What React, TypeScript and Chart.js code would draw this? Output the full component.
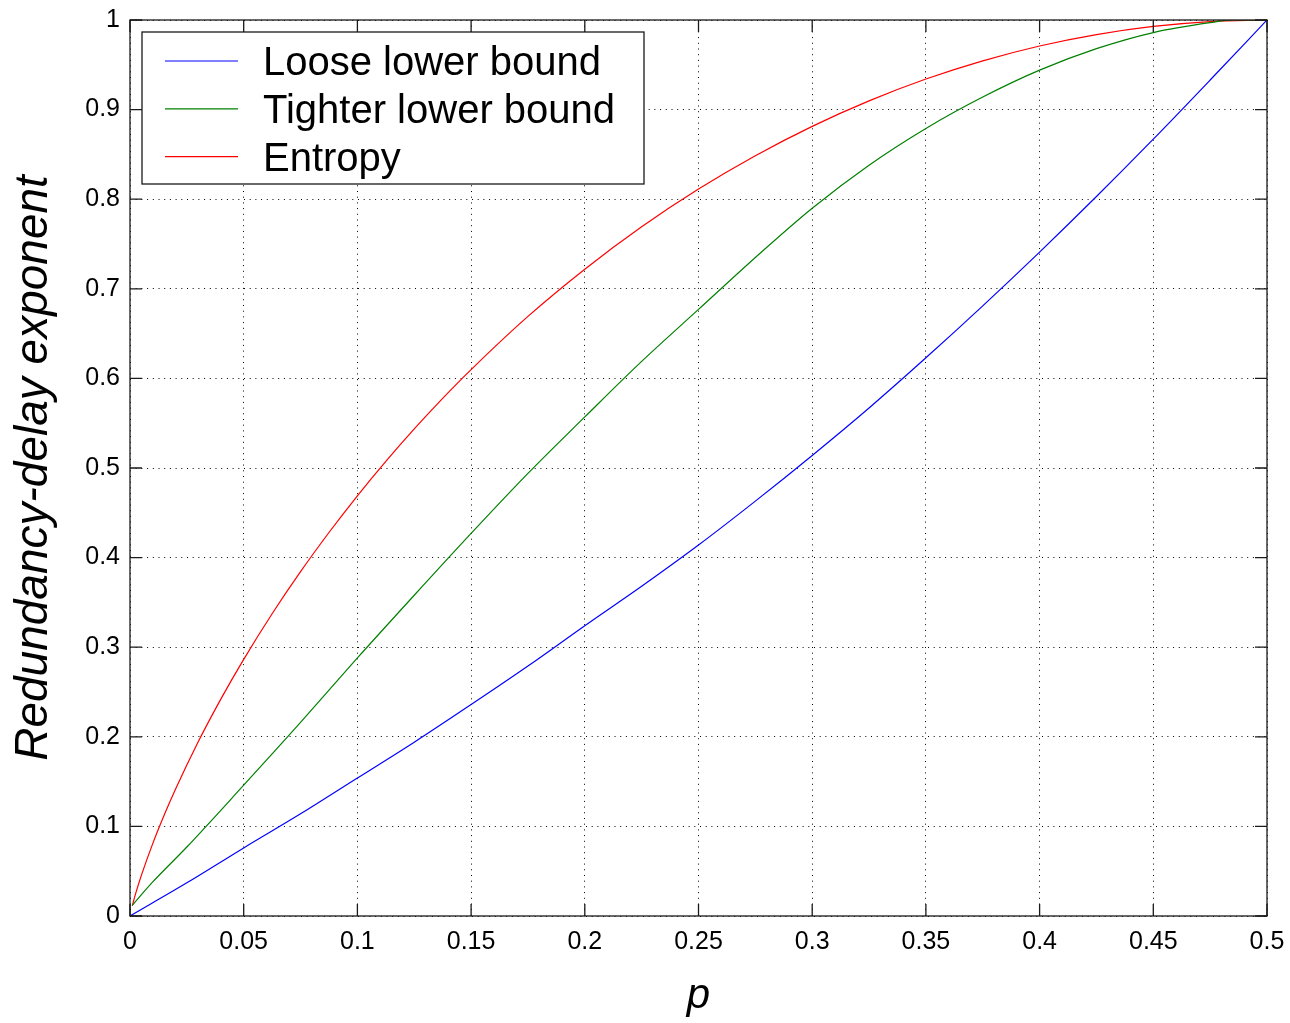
import React, { useEffect, useRef } from 'react';
import { Chart, registerables } from 'chart.js';

Chart.register(...registerables);

// ---- data ----
const seriesNames = ['Loose lower bound', 'Tighter lower bound', 'Entropy'];

const looseP = [0, 0.025, 0.05, 0.075, 0.1, 0.125, 0.15, 0.175, 0.2, 0.225, 0.25, 0.275, 0.3, 0.325, 0.35, 0.375, 0.4, 0.425, 0.45, 0.475, 0.5];
const looseValues = [0, 0.037, 0.076, 0.114, 0.154, 0.194, 0.236, 0.279, 0.324, 0.368, 0.414, 0.463, 0.514, 0.567, 0.623, 0.681, 0.741, 0.803, 0.867, 0.933, 1.0];

const tighterP = [0.001, 0.01, 0.025, 0.05, 0.075, 0.1, 0.125, 0.15, 0.175, 0.2, 0.225, 0.25, 0.275, 0.3, 0.325, 0.35, 0.375, 0.4, 0.425, 0.45, 0.475, 0.485, 0.5];
const tighterValues = [0.012, 0.038, 0.077, 0.146, 0.216, 0.288, 0.358, 0.427, 0.494, 0.557, 0.619, 0.677, 0.735, 0.79, 0.838, 0.879, 0.914, 0.944, 0.968, 0.986, 0.997, 1.0, 1.0];

const entropyP = [0.001, 0.0025, 0.005, 0.01, 0.015, 0.02, 0.03, 0.04, 0.05, 0.0625, 0.075, 0.0875, 0.1, 0.1125, 0.125, 0.1375, 0.15, 0.175, 0.2, 0.225, 0.25, 0.275, 0.3, 0.325, 0.35, 0.375, 0.4, 0.425, 0.45, 0.475, 0.5];
const entropyValues = [0.0114, 0.0252, 0.0454, 0.0808, 0.1124, 0.1414, 0.1944, 0.2423, 0.2864, 0.3373, 0.3843, 0.428, 0.469, 0.5074, 0.5436, 0.5777, 0.6098, 0.6692, 0.7219, 0.7692, 0.8113, 0.8485, 0.8813, 0.9097, 0.9341, 0.9544, 0.971, 0.9837, 0.9928, 0.9982, 1.0];

const xTickValues = [0, 0.05, 0.1, 0.15, 0.2, 0.25, 0.3, 0.35, 0.4, 0.45, 0.5];
const xTickLabels = ['0', '0.05', '0.1', '0.15', '0.2', '0.25', '0.3', '0.35', '0.4', '0.45', '0.5'];
const yTickValues = [0, 0.1, 0.2, 0.3, 0.4, 0.5, 0.6, 0.7, 0.8, 0.9, 1];
const yTickLabels = ['0', '0.1', '0.2', '0.3', '0.4', '0.5', '0.6', '0.7', '0.8', '0.9', '1'];

const xTitle = 'p';
const yTitle = 'Redundancy-delay exponent';

// ---- styles ----
const FONT = '"Liberation Sans", Arial, Helvetica, sans-serif';
const seriesColors = ['#0000ff', '#008000', '#ff0000'];
const frameColor = '#1a1a1a';

function toPoints(xs: number[], ys: number[]) {
  return xs.map((x, i) => ({ x, y: ys[i] }));
}

const framePlugin = {
  id: 'matlabFrame',
  afterDatasetsDraw(chart: any) {
    const { ctx, chartArea, scales } = chart;
    const { left, top, right, bottom } = chartArea;
    const xs = scales.x;
    const ys = scales.y;
    const len = 12;
    ctx.save();
    ctx.strokeStyle = frameColor;
    ctx.lineWidth = 1.3;
    ctx.beginPath();
    xs.ticks.forEach((t: any) => {
      const px = xs.getPixelForValue(t.value);
      ctx.moveTo(px, bottom);
      ctx.lineTo(px, bottom - len);
      ctx.moveTo(px, top);
      ctx.lineTo(px, top + len);
    });
    ys.ticks.forEach((t: any) => {
      const py = ys.getPixelForValue(t.value);
      ctx.moveTo(left, py);
      ctx.lineTo(left + len, py);
      ctx.moveTo(right, py);
      ctx.lineTo(right - len, py);
    });
    ctx.stroke();
    ctx.strokeRect(left, top, right - left, bottom - top);
    ctx.restore();
  },
};

const legendPlugin = {
  id: 'boxLegend',
  afterDraw(chart: any) {
    const { ctx, chartArea } = chart;
    const x0 = chartArea.left + 12;
    const y0 = chartArea.top + 12;
    const w = 502;
    const h = 152;
    ctx.save();
    ctx.fillStyle = '#ffffff';
    ctx.fillRect(x0, y0, w, h);
    ctx.strokeStyle = frameColor;
    ctx.lineWidth = 1.3;
    ctx.strokeRect(x0, y0, w, h);
    ctx.font = `40px ${FONT}`;
    ctx.textBaseline = 'alphabetic';
    ctx.textAlign = 'left';
    chart.data.datasets.forEach((ds: any, i: number) => {
      const cy = y0 + 29 + i * 47.8;
      ctx.strokeStyle = ds.borderColor;
      ctx.lineWidth = 1.2;
      ctx.beginPath();
      ctx.moveTo(x0 + 23, cy);
      ctx.lineTo(x0 + 96, cy);
      ctx.stroke();
      ctx.fillStyle = '#000000';
      ctx.fillText(ds.label, x0 + 121, cy + 14);
    });
    ctx.restore();
  },
};

export default function App() {
  const canvasRef = useRef<HTMLCanvasElement | null>(null);

  useEffect(() => {
    const canvas = canvasRef.current;
    if (!canvas) return;
    const seriesData = [
      toPoints(looseP, looseValues),
      toPoints(tighterP, tighterValues),
      toPoints(entropyP, entropyValues),
    ];
    const chart = new Chart(canvas, {
      type: 'line',
      data: {
        datasets: seriesNames.map((name, i) => ({
          label: name,
          data: seriesData[i],
          borderColor: seriesColors[i],
          backgroundColor: seriesColors[i],
          borderWidth: 1.2,
          pointRadius: 0,
          fill: false,
          cubicInterpolationMode: 'monotone' as const,
        })),
      },
      options: {
        animation: false,
        responsive: false,
        devicePixelRatio: 1,
        events: [],
        layout: { padding: { top: 20, right: 23, left: 0, bottom: 0 } },
        plugins: {
          legend: { display: false },
          tooltip: { enabled: false },
        },
        scales: {
          x: {
            type: 'linear',
            min: 0,
            max: 0.5,
            afterBuildTicks: (scale: any) => {
              scale.ticks = xTickValues.map((v) => ({ value: v }));
            },
            afterFit: (scale: any) => {
              scale.height = 107;
              scale.paddingLeft = 0;
              scale.paddingRight = 0;
            },
            ticks: {
              callback: (value: any) => {
                const i = xTickValues.indexOf(Number(value));
                return i >= 0 ? xTickLabels[i] : '';
              },
              color: '#000',
              font: { family: FONT, size: 25 },
              padding: 11,
              maxRotation: 0,
              autoSkip: false,
            },
            grid: {
              color: '#000',
              lineWidth: 1,
              drawTicks: false,
            },
            border: { display: false, dash: [1, 4.7] },
            title: {
              display: true,
              text: xTitle,
              color: '#000',
              font: { family: FONT, size: 42, style: 'italic' },
              padding: { top: 0, bottom: 1 },
            },
          },
          y: {
            type: 'linear',
            min: 0,
            max: 1,
            afterBuildTicks: (scale: any) => {
              scale.ticks = yTickValues.map((v) => ({ value: v }));
            },
            afterFit: (scale: any) => {
              scale.width = 130;
              scale.paddingTop = 0;
              scale.paddingBottom = 0;
            },
            ticks: {
              callback: (value: any) => {
                const i = yTickValues.indexOf(Number(value));
                return i >= 0 ? yTickLabels[i] : '';
              },
              color: '#000',
              font: { family: FONT, size: 25 },
              padding: 10,
              autoSkip: false,
            },
            grid: {
              color: '#000',
              lineWidth: 1,
              drawTicks: false,
            },
            border: { display: false, dash: [1, 4.7] },
            title: {
              display: true,
              text: yTitle,
              color: '#000',
              font: { family: FONT, size: 46, style: 'italic' },
              padding: { top: 7, bottom: 0 },
            },
          },
        },
      },
      plugins: [framePlugin, legendPlugin],
    });
    return () => {
      chart.destroy();
    };
  }, []);

  return (
    <div style={{ position: 'absolute', left: 0, top: 0, width: 1290, height: 1023, background: '#ffffff' }}>
      <canvas ref={canvasRef} width={1290} height={1023} style={{ width: 1290, height: 1023, display: 'block' }} />
    </div>
  );
}
